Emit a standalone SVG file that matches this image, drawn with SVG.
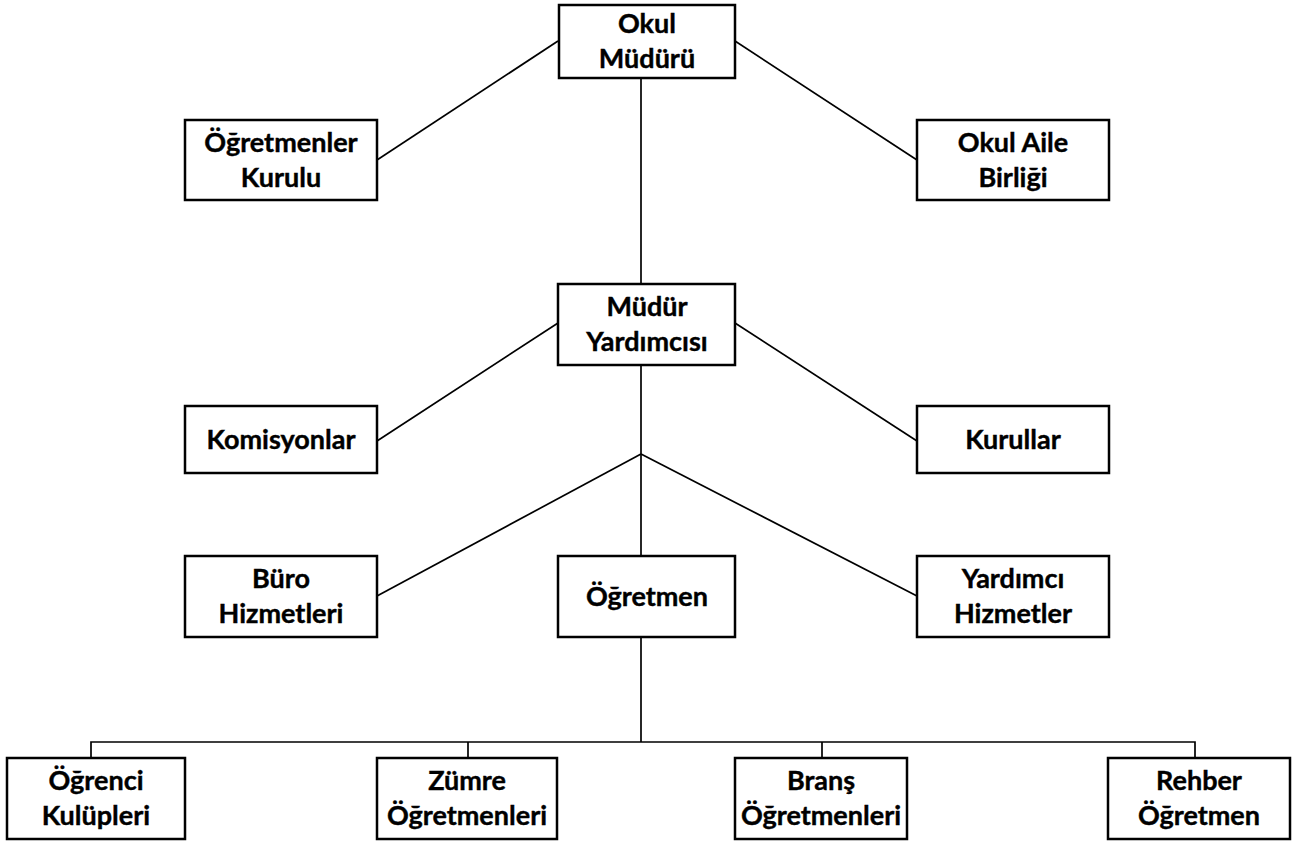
<svg xmlns="http://www.w3.org/2000/svg" width="1298" height="844" viewBox="0 0 1298 844">
<style>
.box{fill:#fff;stroke:#000;stroke-width:2.5}
.t{font-family:Lato,"Open Sans",sans-serif;font-weight:bold;font-size:27px;text-anchor:middle;fill:#000;stroke:#000;stroke-width:0.4}
.c line,.c polyline{stroke:#000;stroke-width:1.7;fill:none}
</style>
<rect width="1298" height="844" fill="#fff"/>
<g class="c" id="connectors">
<line x1="558" y1="41" x2="377" y2="160"/>
<line x1="735" y1="41" x2="917" y2="160"/>
<line x1="641" y1="78" x2="641" y2="284"/>
<line x1="558" y1="323" x2="377" y2="441"/>
<line x1="735" y1="323" x2="917" y2="441"/>
<line x1="641" y1="365" x2="641" y2="556"/>
<line x1="641" y1="454" x2="377" y2="596"/>
<line x1="641" y1="454" x2="917" y2="596"/>
<line x1="641" y1="637" x2="641" y2="742"/>
<polyline points="91,758 91,742 1195,742 1195,758"/>
<line x1="468" y1="742" x2="468" y2="758"/>
<line x1="822" y1="742" x2="822" y2="758"/>
</g>
<g id="okul-muduru"><rect class="box" x="559" y="5" width="176" height="73"/><text class="t" x="647" y="33">Okul</text><text class="t" x="647" y="68">Müdürü</text></g>
<g id="ogretmenler-kurulu"><rect class="box" x="185" y="120" width="192" height="80"/><text class="t" x="281" y="152">Öğretmenler</text><text class="t" x="281" y="187">Kurulu</text></g>
<g id="okul-aile-birligi"><rect class="box" x="917" y="120" width="192" height="80"/><text class="t" x="1013" y="152">Okul Aile</text><text class="t" x="1013" y="187">Birliği</text></g>
<g id="mudur-yardimcisi"><rect class="box" x="558" y="284" width="177" height="81"/><text class="t" x="647" y="316">Müdür</text><text class="t" x="647" y="351">Yardımcısı</text></g>
<g id="komisyonlar"><rect class="box" x="185" y="406" width="192" height="67"/><text class="t" x="281" y="449">Komisyonlar</text></g>
<g id="kurullar"><rect class="box" x="917" y="406" width="192" height="67"/><text class="t" x="1013" y="449">Kurullar</text></g>
<g id="buro-hizmetleri"><rect class="box" x="185" y="556" width="192" height="81"/><text class="t" x="281" y="588">Büro</text><text class="t" x="281" y="623">Hizmetleri</text></g>
<g id="ogretmen"><rect class="box" x="558" y="556" width="177" height="81"/><text class="t" x="647" y="606">Öğretmen</text></g>
<g id="yardimci-hizmetler"><rect class="box" x="917" y="556" width="192" height="81"/><text class="t" x="1013" y="588">Yardımcı</text><text class="t" x="1013" y="623">Hizmetler</text></g>
<g id="ogrenci-kulupleri"><rect class="box" x="7" y="758" width="178" height="81"/><text class="t" x="96" y="790">Öğrenci</text><text class="t" x="96" y="825">Kulüpleri</text></g>
<g id="zumre-ogretmenleri"><rect class="box" x="377" y="758" width="180" height="81"/><text class="t" x="467" y="790">Zümre</text><text class="t" x="467" y="825">Öğretmenleri</text></g>
<g id="brans-ogretmenleri"><rect class="box" x="735" y="758" width="172" height="81"/><text class="t" x="821" y="790">Branş</text><text class="t" x="821" y="825">Öğretmenleri</text></g>
<g id="rehber-ogretmen"><rect class="box" x="1108" y="758" width="182" height="81"/><text class="t" x="1199" y="790">Rehber</text><text class="t" x="1199" y="825">Öğretmen</text></g>
</svg>
